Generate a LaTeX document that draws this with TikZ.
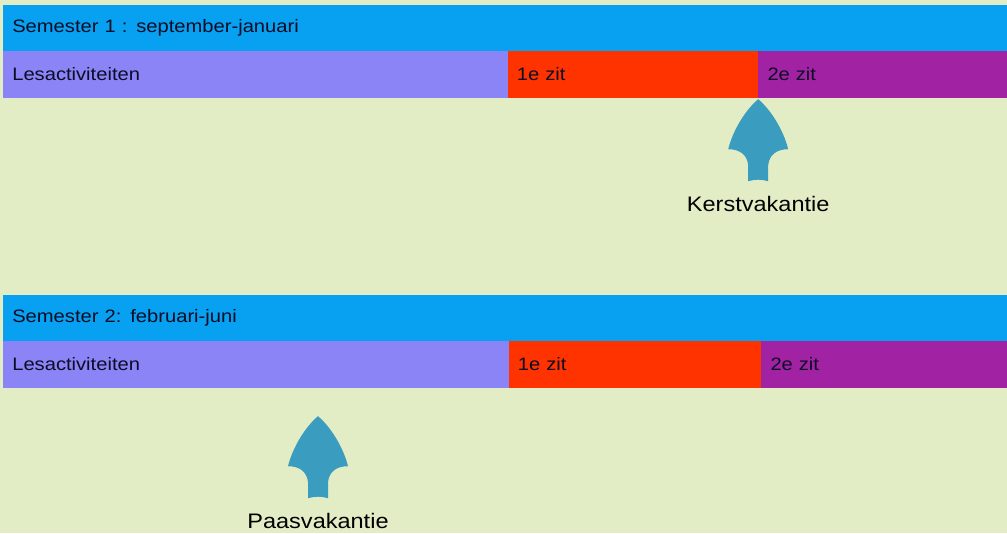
\documentclass[tikz,border=0pt]{standalone}
\usepackage{fontspec}
\setmainfont{Liberation Sans}
\newfontfamily\balkfont[FakeStretch=1.12]{Liberation Sans}
\usetikzlibrary{positioning}

\definecolor{achtergrond}{RGB}{227,237,197}
\definecolor{semblauw}{RGB}{8,160,240}
\definecolor{lesblauw}{RGB}{138,132,246}
\definecolor{zitrood}{RGB}{255,51,0}
\definecolor{zitpaars}{RGB}{162,34,164}
\definecolor{pijlkleur}{RGB}{58,156,190}
\definecolor{balktekst}{RGB}{12,12,36}

\tikzset{
    balk/.style={anchor=north west, inner xsep=9pt, inner ysep=0pt,
        text width=#1, align=left, text=balktekst,
        font=\balkfont\fontsize{18}{20}\selectfont},
    kleur/.style={fill=#1, draw=#1, line width=0.6pt},
    sembalk/.style={balk=986pt, kleur=semblauw, minimum height=45pt},
    rij/.style={balk=#1, minimum height=46pt},
    vakantie/.style={inner sep=0pt, font=\balkfont\fontsize{21}{24}\selectfont},
    pics/vakpijl/.style={code={
        \fill[pijlkleur] (0,0) .. controls (-12,10) and (-25,30) .. (-30,50)
            .. controls (-18,50) and (-11,56) .. (-10,66) -- (-10,82)
            .. controls (-3,80) and (3,80) .. (10,82) -- (10,66)
            .. controls (11,56) and (18,50) .. (30,50)
            .. controls (25,30) and (12,10) .. (0,0) -- cycle;
        \coordinate (-voet) at (0,82);
    }}
}

\begin{document}
\begin{tikzpicture}[x=1pt, y=-1pt]
    \fill[achtergrond] (0,0) rectangle (1007,533);
    \useasboundingbox (0,0) rectangle (1007,533);

    % semester 1
    \node[sembalk] (sem1) at (3,5) {Semester 1 : september-januari};
    \node[rij=486pt, kleur=lesblauw, below right=0pt of sem1.south west] (les1) {Lesactiviteiten};
    \node[rij=232pt, kleur=zitrood, right=0pt of les1] (zit1a) {1e zit};
    \node[rij=232pt, kleur=zitpaars, right=0pt of zit1a] (zit2a) {2e zit};

    % semester 2
    \node[sembalk] (sem2) at (3,295) {Semester 2: februari-juni};
    \node[rij=487pt, kleur=lesblauw, below right=0pt of sem2.south west] (les2) {Lesactiviteiten};
    \node[rij=234pt, kleur=zitrood, right=0pt of les2] (zit1b) {1e zit};
    \node[rij=229pt, kleur=zitpaars, right=0pt of zit1b] (zit2b) {2e zit};

    % vakanties
    \coordinate[below=2pt of zit1a.south east] (kerstpunt);
    \pic (kp) at (kerstpunt) {vakpijl};
    \node[vakantie, below=15pt of kp-voet] (kerst) {Kerstvakantie};

    \coordinate[below right=29pt and 315pt of les2.south west] (paaspunt);
    \pic (pp) at (paaspunt) {vakpijl};
    \node[vakantie, below=15pt of pp-voet] (paas) {Paasvakantie};
\end{tikzpicture}
\end{document}
